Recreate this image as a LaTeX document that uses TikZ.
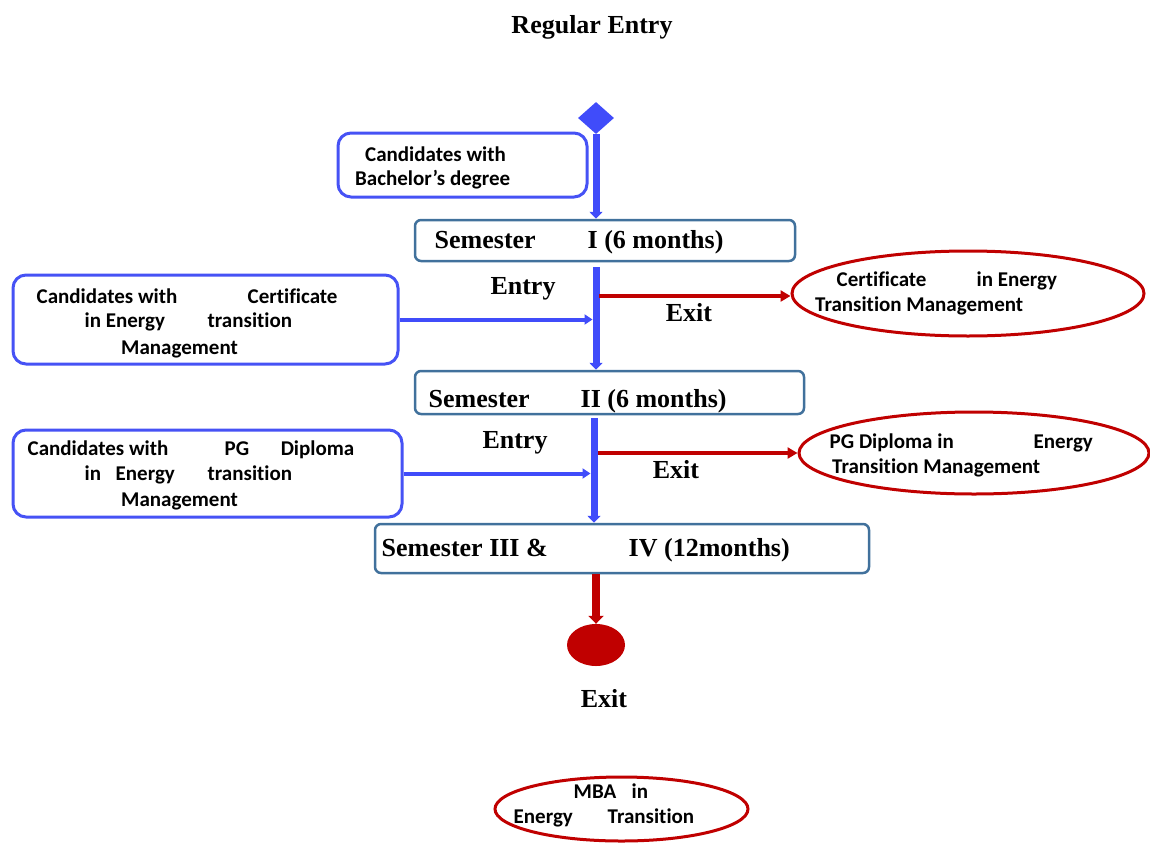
\documentclass[tikz,border=0pt]{standalone}
\usepackage{fontspec}
\newfontfamily\calfont[Ligatures=NoCommon]{Carlito}
\newfontfamily\tmsfont{Liberation Serif}
\usetikzlibrary{shapes.geometric,arrows.meta}
\definecolor{myblue}{RGB}{64,76,250}
\definecolor{boxblue}{RGB}{70,82,245}
\definecolor{semblue}{RGB}{65,113,156}
\definecolor{myred}{RGB}{192,0,0}
\newcommand\Pl[2]{\makebox[0pt][l]{\hspace*{#1}#2}}
\begin{document}
\begin{tikzpicture}[x=1pt,y=-1pt,
  cand/.style={draw=boxblue, line width=3pt, rounded corners=13pt, inner sep=0pt},
  sem/.style={draw=semblue, line width=2.5pt, rounded corners=6pt, inner sep=0pt},
  oval/.style={ellipse, draw=myred, line width=3pt, inner sep=0pt},
  ctxt/.style={anchor=base west, inner sep=0pt, font=\calfont\bfseries\fontsize{21}{24}\selectfont},
  ttxt/.style={anchor=base west, inner sep=0pt, font=\tmsfont\bfseries\fontsize{26}{30}\selectfont},
  tlab/.style={anchor=base, inner sep=0pt, font=\tmsfont\bfseries\fontsize{26}{30}\selectfont},
  bflow/.style={draw=myblue, line width=7pt, -{Triangle[width=13pt,length=7pt]}},
  bin/.style={draw=myblue, line width=4pt, -{Triangle[width=10pt,length=8pt]}},
  rout/.style={draw=myred, line width=4pt, -{Triangle[width=11pt,length=10pt]}},
  rdown/.style={draw=myred, line width=8pt, -{Triangle[width=15pt,length=8pt]}}
]
\useasboundingbox (0,0) rectangle (1150,843);

% title
\node[tlab] (title) at (592,34) {Regular Entry};

% shapes
\node[diamond, fill=myblue, minimum width=36pt, minimum height=32pt, inner sep=0pt] (dia) at (596,118) {};
\node[cand, minimum width=249pt, minimum height=64pt] (bach) at (462.5,165) {};
\node[sem, minimum width=380pt, minimum height=41pt] (sem1) at (605,240.5) {};
\node[cand, minimum width=385pt, minimum height=89pt] (cl1) at (205.5,319.5) {};
\node[oval, minimum width=352pt, minimum height=85pt] (ell1) at (968,293.5) {};
\node[sem, minimum width=389pt, minimum height=43pt] (sem2) at (609.5,392.5) {};
\node[cand, minimum width=389pt, minimum height=87pt] (cl2) at (207.5,473.5) {};
\node[oval, minimum width=350pt, minimum height=82pt] (ell2) at (974,453) {};
\node[sem, minimum width=494pt, minimum height=49pt] (sem3) at (622,548.5) {};
\node[ellipse, fill=myred, minimum width=58pt, minimum height=42pt, inner sep=0pt] (dot) at (596,645) {};
\node[oval, minimum width=253pt, minimum height=64pt] (ell3) at (621.5,809) {};

% texts
\node[ctxt] (bachA) at (365,161) {Candidates with};
\node[ctxt] (bachB) at (355,185) {Bachelor’s degree};
\node[ttxt] (sem1t) at (434,248.5) {\Pl{0pt}{Semester}\Pl{153pt}{I (6 months)}};
\node[tlab] (entry1) at (523,294) {Entry};
\node[tlab] (exit1) at (689,321) {Exit};
\node[ctxt] (e1A) at (836,286) {\Pl{0pt}{Certificate}\Pl{140pt}{in Energy}};
\node[ctxt] (e1B) at (815,311) {Transition Management};
\node[ctxt] (c1A) at (36,303) {\Pl{0pt}{Candidates with}\Pl{211pt}{Certificate}};
\node[ctxt] (c1B) at (84,327) {\Pl{0pt}{in Energy}\Pl{123pt}{transition}};
\node[ctxt] (c1C) at (121,354) {Management};
\node[ttxt] (sem2t) at (428,407) {\Pl{0pt}{Semester}\Pl{152pt}{II (6 months)}};
\node[tlab] (entry2) at (515,448) {Entry};
\node[tlab] (exit2) at (676,478) {Exit};
\node[ctxt] (e2A) at (829,448) {\Pl{0pt}{PG Diploma in}\Pl{204pt}{Energy}};
\node[ctxt] (e2B) at (832,473) {Transition Management};
\node[ctxt] (c2A) at (27,455) {\Pl{0pt}{Candidates with}\Pl{197pt}{PG}\Pl{253pt}{Diploma}};
\node[ctxt] (c2B) at (84,480) {\Pl{0pt}{in}\Pl{31pt}{Energy}\Pl{123pt}{transition}};
\node[ctxt] (c2C) at (121,506) {Management};
\node[ttxt] (sem3t) at (381,556.5) {\Pl{0pt}{Semester III \&}\Pl{247pt}{IV (12months)}};
\node[tlab] (exit3) at (604,707) {Exit};
\node[ctxt] (e3A) at (573,798) {\Pl{0pt}{MBA}\Pl{58pt}{in}};
\node[ctxt] (e3B) at (513,823) {\Pl{0pt}{Energy}\Pl{94pt}{Transition}};

% connectors
\coordinate (lowx) at (594,0);
\coordinate (r1) at (599,296);
\coordinate (r2) at (598,453);
\draw[bflow] (dia.south) -- (dia.south |- sem1.north);
\draw[bflow, shorten <=5pt] (dia |- sem1.south) -- (dia |- sem2.north);
\draw[bflow, shorten <=3pt] (lowx |- sem2.south) -- (lowx |- sem3.north);
\draw[bin, shorten >=3.5pt] (cl1.east) -- (cl1.east -| dia);
\draw[bin, shorten >=3.5pt] (cl2.east) -- (cl2.east -| lowx);
\draw[rout] (r1) -- (r1 -| ell1.west);
\draw[rout] (r2) -- (r2 -| ell2.west);
\draw[rdown] (dia |- sem3.south) -- (dot.north);
\end{tikzpicture}
\end{document}
